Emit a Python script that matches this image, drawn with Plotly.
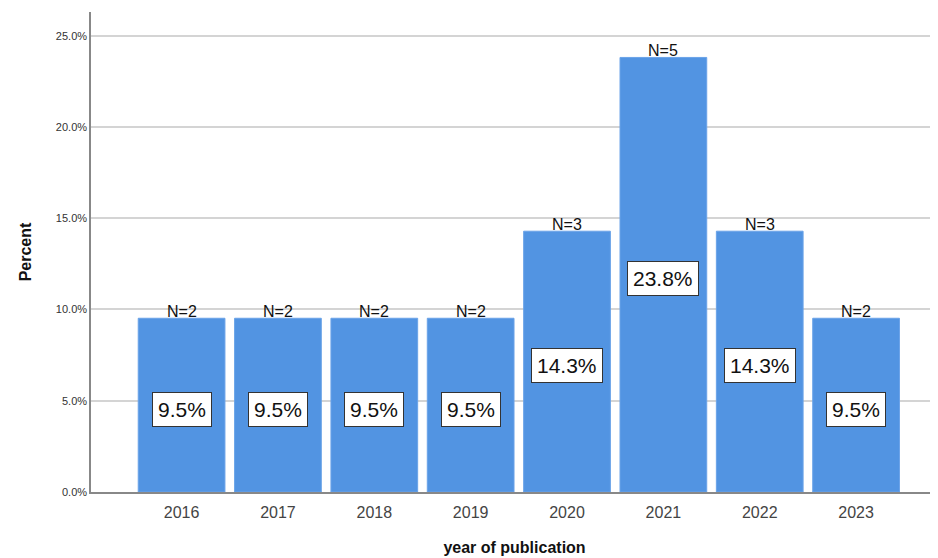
import plotly.graph_objects as go

years = ['2016', '2017', '2018', '2019', '2020', '2021', '2022', '2023']
counts = [2, 2, 2, 2, 3, 5, 3, 2]
percents = [9.52, 9.52, 9.52, 9.52, 14.29, 23.81, 14.29, 9.52]
pct_labels = ['9.5%', '9.5%', '9.5%', '9.5%', '14.3%', '23.8%', '14.3%', '9.5%']
y_ticks = [0, 5, 10, 15, 20, 25]
y_tick_labels = ['0.0%', '5.0%', '10.0%', '15.0%', '20.0%', '25.0%']

fig = go.Figure()

fig.add_trace(go.Bar(
    x=list(range(len(years))),
    y=percents,
    width=0.9,
    marker=dict(color='#5294e2', line=dict(color='#6aa3e8', width=1)),
    hoverinfo='skip'
))

# N= labels sitting on top of each bar
for i, (p, n) in enumerate(zip(percents, counts)):
    fig.add_annotation(
        x=i, y=p, text=f'N={n}', showarrow=False,
        yanchor='middle', yshift=7,
        font=dict(family='Arial, Liberation Sans', size=16, color='#111')
    )

# boxed percentage labels in the middle of each bar
for i, (p, lab) in enumerate(zip(percents, pct_labels)):
    fig.add_annotation(
        x=i, y=p / 2, text=lab, showarrow=False,
        yanchor='middle', yshift=-4,
        bgcolor='white', bordercolor='#333', borderwidth=1, borderpad=5,
        font=dict(family='Arial, Liberation Sans', size=21, color='#111')
    )

fig.update_layout(
    width=930,
    height=550,
    margin=dict(l=83, r=0, t=4, b=66),
    plot_bgcolor='white',
    paper_bgcolor='white',
    showlegend=False,
    font=dict(family='Arial, Liberation Sans'),
    xaxis=dict(
        range=[-0.94, 7.85],
        tickvals=list(range(len(years))),
        ticktext=years,
        showline=True, linecolor='#888', linewidth=1.5,
        showgrid=False, zeroline=False,
        ticks='outside', ticklen=5, tickcolor='rgba(0,0,0,0)',
        tickfont=dict(size=16, color='#444'),
        title=dict(text='<b>year of publication</b>', font=dict(size=16, color='#111'), standoff=22),
    ),
    yaxis=dict(
        range=[0, 26.3],
        tickvals=y_ticks,
        ticktext=y_tick_labels,
        showline=True, linecolor='#888', linewidth=1.5,
        showgrid=True, gridcolor='#d4d4d4', gridwidth=1.5,
        zeroline=False, ticks='',
        tickfont=dict(size=11, color='#333'),
        title=dict(text='<b>Percent</b>', font=dict(size=16, color='#111'), standoff=20),
    ),
)

fig.write_html('out.html')
